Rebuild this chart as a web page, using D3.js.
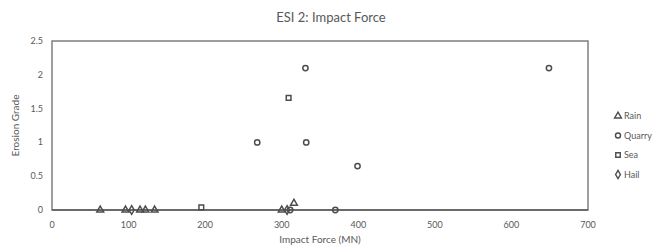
<!DOCTYPE html>
<html>
<head>
<meta charset="utf-8">
<script src="https://cdn.jsdelivr.net/npm/d3@7"></script>
<style>
  body { margin: 0; background: #fff; }
  text { font-family: Lato, "Open Sans", sans-serif; fill: #595959; }
</style>
</head>
<body>
<div id="chart"></div>
<script>
var w = 665;
var h = 247;

// data: [impact force (MN), erosion grade]
var rain = [[63, 0], [96, 0], [115, 0], [122, 0], [134, 0], [300, 0], [316, 0.1]];
var quarry = [[268, 1], [331, 2.1], [332, 1], [399, 0.65], [649, 2.1], [370, 0], [311, 0]];
var sea = [[195, 0.04], [309, 1.66]];
var hail = [[104, 0], [307, 0]];
var seriesNames = ["Rain", "Quarry", "Sea", "Hail"];
var xTicks = [0, 100, 200, 300, 400, 500, 600, 700];
var yTicks = [0, 0.5, 1, 1.5, 2, 2.5];

var series = [
  {name: "Rain", pts: rain, shape: d3.symbolTriangle},
  {name: "Quarry", pts: quarry, shape: d3.symbolCircle},
  {name: "Sea", pts: sea, shape: d3.symbolSquare},
  {name: "Hail", pts: hail, shape: d3.symbolDiamond}
];

var padL = 52, padR = 588, padT = 41, padB = 210;

var x = d3.scaleLinear().domain([0, 700]).range([padL, padR]);
var y = d3.scaleLinear().domain([0, 2.5]).range([padB, padT]);

var svg = d3.select("#chart")
  .append("svg")
  .attr("width", w)
  .attr("height", h);

// title
svg.append("text")
  .attr("x", 331)
  .attr("y", 22)
  .attr("text-anchor", "middle")
  .attr("font-size", "13px")
  .text("ESI 2: Impact Force");

// plot frame
svg.append("rect")
  .attr("x", padL)
  .attr("y", padT)
  .attr("width", padR - padL)
  .attr("height", padB - padT)
  .attr("fill", "none")
  .attr("stroke", "#7f7f7f")
  .attr("stroke-width", 1.5);

svg.append("line")
  .attr("x1", padL).attr("x2", padR)
  .attr("y1", padB).attr("y2", padB)
  .attr("stroke", "#595959")
  .attr("stroke-width", 1.5);

// tick labels
svg.selectAll("text.xt")
  .data(xTicks)
  .enter()
  .append("text")
  .attr("class", "xt")
  .attr("x", function(d) { return x(d); })
  .attr("y", 228)
  .attr("text-anchor", "middle")
  .attr("font-size", "9px")
  .text(function(d) { return d; });

svg.selectAll("text.yt")
  .data(yTicks)
  .enter()
  .append("text")
  .attr("class", "yt")
  .attr("x", 43)
  .attr("y", function(d) { return y(d) + 3; })
  .attr("text-anchor", "end")
  .attr("font-size", "9px")
  .text(function(d) { return d; });

// axis titles
svg.append("text")
  .attr("x", 320)
  .attr("y", 243)
  .attr("text-anchor", "middle")
  .attr("font-size", "10px")
  .text("Impact Force (MN)");

svg.append("text")
  .attr("transform", "translate(19," + ((padT + padB) / 2) + ") rotate(-90)")
  .attr("text-anchor", "middle")
  .attr("font-size", "10px")
  .text("Erosion Grade");

// markers
series.forEach(function(s) {
  svg.selectAll("path.m" + s.name)
    .data(s.pts)
    .enter()
    .append("path")
    .attr("class", "m" + s.name)
    .attr("d", d3.symbol().type(s.shape).size(s.name == "Rain" ? 20 : 22))
    .attr("transform", function(d) { return "translate(" + x(d[0]) + "," + y(d[1]) + ")"; })
    .attr("fill", "none")
    .attr("stroke", "#4d4d4d")
    .attr("stroke-width", 1.5);
});

// legend
var leg = svg.selectAll("g.leg")
  .data(series)
  .enter()
  .append("g")
  .attr("class", "leg")
  .attr("transform", function(d, i) { return "translate(618," + (116 + i * 19.5) + ")"; });

leg.append("path")
  .attr("d", function(d) { return d3.symbol().type(d.shape).size(d.name == "Rain" ? 20 : 20)(); })
  .attr("fill", "none")
  .attr("stroke", "#4d4d4d")
  .attr("stroke-width", 1.4);

leg.append("text")
  .attr("x", 6)
  .attr("y", 3)
  .attr("font-size", "9px")
  .text(function(d) { return d.name; });
</script>
</body>
</html>
